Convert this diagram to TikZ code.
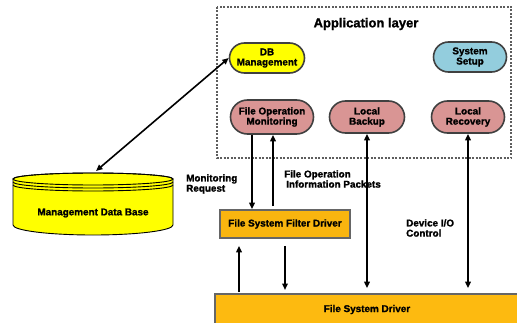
\documentclass[tikz,border=0pt]{standalone}
\usepackage{fontspec}
\setmainfont{Liberation Sans}[BoldFeatures={FakeBold=1.3}]
\usetikzlibrary{shapes.misc,arrows.meta}
\definecolor{dbyellow}{HTML}{FFFF00}
\definecolor{setupblue}{HTML}{93CDDD}
\definecolor{pillrose}{HTML}{D99594}
\definecolor{filterorange}{HTML}{F9B50F}
\definecolor{driverorange}{HTML}{FDBA10}
\definecolor{edgegray}{HTML}{404040}
\begin{document}
\begin{tikzpicture}[x=1pt,y=1pt,
  txt/.style={font=\fontsize{9.9}{10.2}\selectfont\bfseries},
  pill/.style={rounded rectangle, draw=edgegray, line width=1.6pt, txt,
    align=center, inner sep=0pt},
  boxnode/.style={rectangle, draw=edgegray!80, line width=1.6pt, txt, inner sep=0pt},
  conn/.style={line width=1.6pt, black},
  tip/.style={-{Triangle[length=6.5pt,width=5.5pt]}},
  bothtips/.style={{Triangle[length=6.5pt,width=5.5pt]}-{Triangle[length=6.5pt,width=5.5pt]}},
  lbltext/.style={txt, align=left, inner sep=0pt}]
\useasboundingbox (0,0) rectangle (517,322);
\clip (0,0) rectangle (517,322);

% application layer frame
\draw[edgegray!85, line width=1.3pt, dash pattern=on 2pt off 1.5pt]
  (217,315) rectangle (511,164);
\node[font=\fontsize{13}{14}\selectfont\bfseries] (title) at (366,298) {Application layer};

% application components
\node[pill, fill=dbyellow, minimum width=75pt, minimum height=30pt] (dbm) at (267,264) {DB\\Management};
\node[pill, fill=setupblue, minimum width=73pt, minimum height=30pt] (sys) at (470,265) {System\\Setup};
\node[pill, fill=pillrose, minimum width=83pt, minimum height=34pt] (fom) at (272,205) {File Operation\\Monitoring};
\node[pill, fill=pillrose, minimum width=75pt, minimum height=32pt] (lb) at (367,205) {Local\\Backup};
\node[pill, fill=pillrose, minimum width=73pt, minimum height=32pt] (lr) at (468,205) {Local\\Recovery};

% drivers
\node[boxnode, fill=filterorange, minimum width=130pt, minimum height=28pt] (filter) at (285,98) {File System Filter Driver};
\node[boxnode, fill=driverorange, minimum width=304pt, minimum height=31pt] (fsd) at (367,12.5) {File System Driver};

% management database cylinder
\filldraw[fill=dbyellow, draw=black, line width=0.9pt]
  (13,143) -- (13,97) arc[start angle=180, end angle=360, x radius=80, y radius=10]
  -- (173,143) arc[start angle=0, end angle=180, x radius=80, y radius=6] -- cycle;
\draw[black, line width=0.9pt] (93,143) ellipse[x radius=80, y radius=6];
\draw[black, line width=0.9pt] (13,140) arc[start angle=180, end angle=360, x radius=80, y radius=6];
\draw[black, line width=0.9pt] (13,137) arc[start angle=180, end angle=360, x radius=80, y radius=6];
\node[txt] (dbtext) at (93,109) {Management Data Base};
\coordinate (dbtop) at (96,151);

% connectors
\draw[conn, bothtips] (dbm.west) -- (dbtop);
\draw[conn, tip] ([xshift=-20pt]fom.south) -- ([xshift=-20pt]fom.south |- filter.north);
\draw[conn, tip] ([xshift=1pt,yshift=3pt]fom.south |- filter.north) -- ([xshift=1pt]fom.south);
\draw[conn, bothtips, shorten >=5pt] (lb.south) -- (lb.south |- fsd.north);
\draw[conn, bothtips, shorten >=5pt] (lr.south) -- (lr.south |- fsd.north);
\coordinate (upbase) at (239,30);
\coordinate (downbase) at (285,32);
\draw[conn, tip, shorten >=7pt] (upbase) -- (upbase |- filter.south);
\draw[conn, tip, shorten <=7pt] (downbase |- filter.south) -- (downbase);

% connector labels
\node[lbltext, anchor=west] (monreq) at (186,138) {Monitoring\\Request};
\node[lbltext, anchor=west] (fopkt) at (284,143) {File Operation\\\hspace*{2pt}Information Packets};
\node[lbltext, anchor=west] (devio) at (406,94) {Device I/O\\Control};
\end{tikzpicture}
\end{document}
